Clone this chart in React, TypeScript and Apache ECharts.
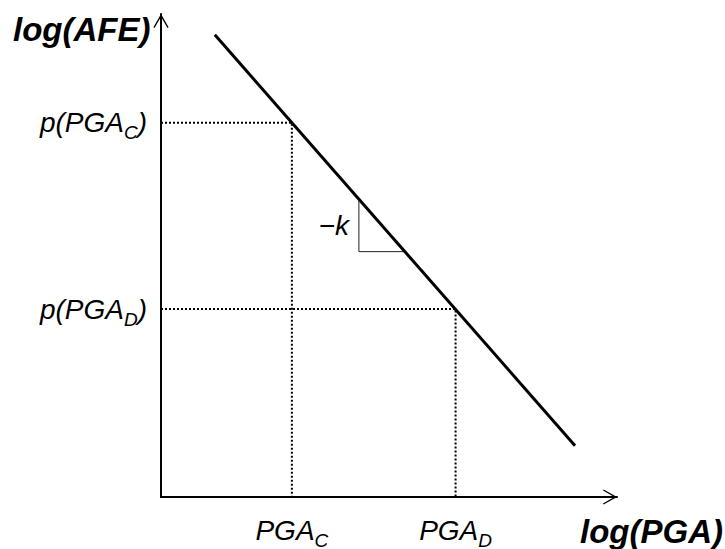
import React, { useEffect, useRef } from 'react';
import * as echarts from 'echarts';

const W = 725;
const H = 549;
const FONT = "'Liberation Sans', Arial, Helvetica, sans-serif";

// axis extents (data units)
const xRange = [0, 10];
const yRange = [0, 10];
// hazard line log(AFE) vs log(PGA)
const hazardX = [1.18, 9.08];
const hazardY = [9.57, 1.06];
// marked points C and D
const pointC = [2.87, 7.75];
const pointD = [6.46, 3.89];
// slope triangle
const triX = [4.34, 4.34, 5.35];
const triY = [6.16, 5.08, 5.08];
// texts
const xAxisName = 'log(PGA)';
const yAxisName = 'log(AFE)';
const slopeLabel = '−k';
const subs = ['C', 'D'];

const ARROW = 'path://M8,0 L16,14 L14.8,14.7 L8,2.9 L1.2,14.7 L0,14 Z';

function measure(text: string, font: string): number {
  const ctx = document.createElement('canvas').getContext('2d');
  if (!ctx) return text.length * 14;
  ctx.font = font;
  return ctx.measureText(text).width;
}

function subLabel(prefix: string, sub: string, suffix: string, ax: number, cy: number, align: 'right' | 'center') {
  const MAIN = 28;
  const SUB = 19;
  const fMain = `italic ${MAIN}px ${FONT}`;
  const fSub = `italic ${SUB}px ${FONT}`;
  const w1 = measure(prefix, fMain);
  const w2 = measure(sub, fSub);
  const w3 = suffix ? measure(suffix, fMain) : 0;
  const total = w1 + w2 + w3;
  const x0 = align === 'right' ? ax - total : ax - total / 2;
  const mk = (text: string, x: number, y: number, size: number) => ({
    type: 'text',
    x,
    y,
    silent: true,
    style: {
      text,
      fill: '#000',
      font: `italic ${size}px ${FONT}`,
      fontStyle: 'italic',
      fontSize: size,
      fontFamily: FONT,
      textAlign: 'left',
      textVerticalAlign: 'middle',
      verticalAlign: 'middle',
    },
  });
  const els: any[] = [mk(prefix, x0, cy, MAIN), mk(sub, x0 + w1, cy + 10, SUB)];
  if (suffix) els.push(mk(suffix, x0 + w1 + w2, cy, MAIN));
  return els;
}

export default function App() {
  const ref = useRef<HTMLDivElement>(null);
  useEffect(() => {
    if (!ref.current) return;
    const chart = echarts.init(ref.current, undefined, { renderer: 'svg', width: W, height: H });
    const axisCommon = {
      type: 'value',
      axisLine: {
        show: true,
        onZero: false,
        lineStyle: { color: '#000', width: 2 },
        symbol: ['none', ARROW],
        symbolSize: [16, 14],
        symbolOffset: [0, -7],
      },
      axisTick: { show: false },
      axisLabel: { show: false },
      splitLine: { show: false },
    };
    const dotted = { color: '#000', width: 2, type: [2, 2] };
    chart.setOption({
      animation: false,
      backgroundColor: '#fff',
      grid: { left: 161, right: 108, top: 14, bottom: 52 },
      xAxis: { ...axisCommon, min: xRange[0], max: xRange[1] },
      yAxis: { ...axisCommon, min: yRange[0], max: yRange[1] },
      series: [
        {
          type: 'line',
          data: [[xRange[0], pointC[1]], [pointC[0], pointC[1]], [pointC[0], yRange[0]]],
          symbol: 'none',
          silent: true,
          lineStyle: dotted,
        },
        {
          type: 'line',
          data: [[xRange[0], pointD[1]], [pointD[0], pointD[1]], [pointD[0], yRange[0]]],
          symbol: 'none',
          silent: true,
          lineStyle: dotted,
        },
        {
          type: 'line',
          data: triX.map((x, i) => [x, triY[i]]),
          symbol: 'none',
          silent: true,
          lineStyle: { color: '#222', width: 1 },
        },
        {
          type: 'line',
          data: hazardX.map((x, i) => [x, hazardY[i]]),
          symbol: 'none',
          silent: true,
          z: 5,
          lineStyle: { color: '#000', width: 3 },
        },
      ],
    });

    const px = (p: number[]) => chart.convertToPixel({ gridIndex: 0 }, p) as number[];
    const origin = px([xRange[0], yRange[0]]);
    const pc = px(pointC);
    const pd = px(pointD);
    const tTop = px([triX[0], triY[0]]);
    const tBot = px([triX[1], triY[1]]);

    const elements: any[] = [
      ...subLabel('p(PGA', subs[0], ')', origin[0] - 14, pc[1], 'right'),
      ...subLabel('p(PGA', subs[1], ')', origin[0] - 14, pd[1], 'right'),
      ...subLabel('PGA', subs[0], '', pc[0], origin[1] + 33, 'center'),
      ...subLabel('PGA', subs[1], '', pd[0], origin[1] + 33, 'center'),
      {
        type: 'text',
        x: 13,
        y: 29,
        silent: true,
        style: {
          text: yAxisName,
          fill: '#000',
          font: `italic bold 33px ${FONT}`,
          textAlign: 'left',
          verticalAlign: 'middle',
        },
      },
      {
        type: 'text',
        x: 580,
        y: origin[1] + 34,
        silent: true,
        style: {
          text: xAxisName,
          fill: '#000',
          font: `italic bold 33px ${FONT}`,
          textAlign: 'left',
          verticalAlign: 'middle',
        },
      },
      {
        type: 'text',
        x: tTop[0] - 10,
        y: (tTop[1] + tBot[1]) / 2,
        silent: true,
        style: {
          text: slopeLabel,
          fill: '#000',
          font: `italic 28px ${FONT}`,
          textAlign: 'right',
          verticalAlign: 'middle',
        },
      },
    ];
    chart.setOption({ graphic: { elements } });
    return () => chart.dispose();
  }, []);
  return (
    <div
      ref={ref}
      style={{ position: 'absolute', left: 0, top: 0, width: W, height: H, background: '#fff' }}
    />
  );
}
